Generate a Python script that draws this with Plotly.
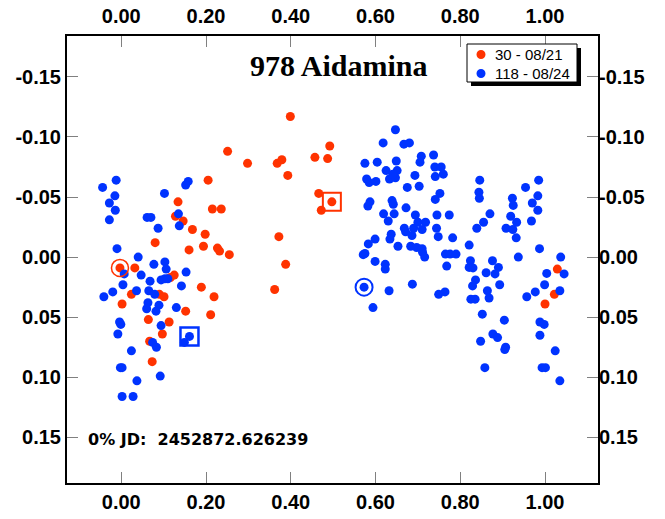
import plotly.graph_objects as go

# Session 30 (08/21): rotational phase and reduced magnitude
red_phase = [-0.003, 0.032, 0.024, 0.002, 0.080, 0.090, 0.101, 0.064, 0.067, 0.073,
             0.097, 0.113, 0.116, 0.125, 0.134, 0.128, 0.146, 0.152, 0.160, 0.168,
             0.189, 0.194, 0.198, 0.205, 0.211, 0.215, 0.219, 0.227, 0.232, 0.236,
             0.251, 0.255, 0.298, 0.362, 0.368, 0.372, 0.379, 0.388, 0.393, 0.399,
             0.457, 0.466, 0.472, 0.487, 0.492, 1.000, 1.022, 1.029, 0.497]
red_mag = [0.009, 0.009, 0.031, 0.039, -0.012, 0.031, 0.033, 0.052, 0.070, 0.087,
           0.064, 0.054, 0.017, 0.015, -0.046, -0.034, -0.030, 0.045, -0.006, -0.023,
           0.025, -0.009, -0.019, -0.064, 0.048, -0.040, 0.033, -0.0075, -0.005, -0.040,
           -0.088, -0.002, -0.078, 0.027, -0.078, -0.017, -0.081, 0.006, -0.068, -0.117,
           -0.083, -0.053, -0.039, -0.082, -0.0925, 0.039, 0.031, 0.010, -0.046]

# Session 118 (08/24)
blue_phase = [0.573,
              -0.012, -0.044, -0.015, -0.028, -0.014, -0.028, 0.158, 0.152, 0.102, 0.061,
              0.070, 0.087, 0.135, 0.137, -0.010, 0.040, 0.077, 0.103, 0.106, 0.007,
              0.047, 0.068, 0.094, 0.103, 0.110, 0.153, 0.142, 0.004, -0.020, -0.041,
              0.036, 0.065, 0.079, 0.063, 0.060, 0.089, 0.082, 0.130, 0.094, -0.004,
              -0.001, -0.008, 0.074, 0.083, 0.149, 0.024, -0.002, 0.002, 0.092, 0.037,
              0.002, 0.028,
              0.647, 0.618, 0.667, 0.680, 0.575, 0.604, 0.649, 0.708, 0.705, 0.737,
              0.625, 0.651, 0.633, 0.647, 0.641, 0.579, 0.585, 0.601, 0.693, 0.740,
              0.755, 0.760, 0.741, 0.675, 0.703, 0.752, 0.741, 0.587, 0.582, 0.639,
              0.642, 0.672, 0.619, 0.644, 0.630, 0.694, 0.700, 0.718, 0.690, 0.668,
              0.671, 0.686, 0.710, 0.745, 0.774, 0.744, 0.748, 0.782, 0.637, 0.634,
              0.599, 0.583, 0.575, 0.571, 0.653, 0.683, 0.697, 0.710, 0.711, 0.716,
              0.765, 0.776, 0.790, 0.768, 0.599, 0.623, 0.623, 0.632, 0.687, 0.749,
              0.764, 0.594,
              0.846, 0.985, 0.954, 0.844, 0.845, 0.923, 0.925, 0.970, 0.983, 0.983,
              0.870, 0.855, 0.839, 0.919, 0.908, 0.924, 0.933, 0.932, 0.968, 0.821,
              0.987, 0.937, 1.037, 0.824, 0.821, 0.830, 0.876, 0.890, 0.861, 0.882,
              0.836, 0.829, 0.893, 0.864, 0.868, 0.825, 0.835, 1.004, 1.045, 0.999,
              0.977, 0.957, 1.035, 0.852, 0.904, 0.988, 0.998, 0.988, 0.877, 0.888,
              0.848, 0.907, 0.905, 1.024, 0.858, 0.993, 1.001, 1.035,
              0.161]
blue_mag = [0.025,
            -0.064, -0.058, -0.051, -0.045, -0.039, -0.031, -0.063, -0.060, -0.053, -0.033,
            -0.033, -0.024, -0.036, -0.026, -0.007, 0.000, 0.006, 0.004, 0.010, 0.014,
            0.015, 0.020, 0.019, 0.018, 0.018, 0.0125, 0.024, 0.023, 0.029, 0.033,
            0.028, 0.028, 0.031, 0.038, 0.043, 0.040, 0.045, 0.042, 0.057, 0.054,
            0.056, 0.064, 0.071, 0.075, 0.071, 0.078, 0.092, 0.092, 0.099, 0.103,
            0.116, 0.116,
            -0.106, -0.095, -0.094, -0.095, -0.078, -0.079, -0.080, -0.084, -0.079, -0.085,
            -0.072, -0.072, -0.065, -0.066, -0.069, -0.065, -0.062, -0.063, -0.068, -0.075,
            -0.075, -0.069, -0.067, -0.058, -0.059, -0.053, -0.048, -0.046, -0.0425, -0.047,
            -0.044, -0.041, -0.036, -0.036, -0.030, -0.035, -0.029, -0.029, -0.024, -0.024,
            -0.021, -0.018, -0.023, -0.035, -0.035, -0.024, -0.017, -0.016, -0.019, -0.015,
            -0.015, -0.011, -0.003, -0.002, -0.009, -0.009, -0.008, -0.007, -0.004, 0.000,
            -0.0025, -0.0025, -0.0025, 0.0075, 0.0036, 0.006, 0.010, 0.028, 0.0225, 0.031,
            0.029, 0.042,
            -0.064, -0.064, -0.058, -0.054, -0.049, -0.049, -0.043, -0.045, -0.051, -0.039,
            -0.036, -0.029, -0.024, -0.034, -0.024, -0.023, -0.029, -0.016, -0.030, -0.010,
            -0.007, 0.000, 0.000, 0.003, 0.0086, 0.009, 0.003, 0.0086, 0.013, 0.014,
            0.019, 0.024, 0.023, 0.028, 0.034, 0.035, 0.035, 0.0136, 0.014, 0.023,
            0.029, 0.033, 0.028, 0.0475, 0.0525, 0.054, 0.056, 0.065, 0.064, 0.067,
            0.070, 0.075, 0.077, 0.078, 0.092, 0.092, 0.092, 0.103,
            0.066]

session_names = ["30 - 08/21", "118 - 08/24"]
session_colors = ["#ff3300", "#0033ff"]

x_ticks = [0.0, 0.2, 0.4, 0.6, 0.8, 1.0]
x_ticktext = ["0.00", "0.20", "0.40", "0.60", "0.80", "1.00"]
y_ticks = [-0.15, -0.10, -0.05, 0.0, 0.05, 0.10, 0.15]
y_ticktext = ["-0.15", "-0.10", "-0.05", "0.00", "0.05", "0.10", "0.15"]

title_text = "978 Aidamina"
epoch_text = "0% JD:  2452872.626239"

x_range = [-0.128, 1.125]
y_range = [0.188, -0.184]

W, H = 665, 519
M_L, M_R, M_T, M_B = 67, 67, 36, 36
PW, PH = W - M_L - M_R, H - M_T - M_B


def px_x(px):
    """Pixel column -> paper x."""
    return (px - M_L) / PW


def px_y(py):
    """Pixel row -> paper y."""
    return (H - M_B - py) / PH


fig = go.Figure()

sessions = [(red_phase, red_mag), (blue_phase, blue_mag)]
for (ph, mg), name, color in zip(sessions, session_names, session_colors):
    fig.add_trace(go.Scatter(
        x=ph, y=mg, mode="markers", name=name, showlegend=False,
        marker=dict(color=color, size=9, line=dict(width=0)),
    ))

# Open symbols: a ring around the first point of each session, a square around the last
marks = [(session_colors[0], red_phase[0], red_mag[0], "circle-open", 17, 1.5),
         (session_colors[1], blue_phase[0], blue_mag[0], "circle-open", 17, 2),
         (session_colors[0], red_phase[-1], red_mag[-1], "square-open", 18, 2),
         (session_colors[1], blue_phase[-1], blue_mag[-1], "square-open", 18, 2.5)]
for color, mx, my, sym, size, lw in marks:
    fig.add_trace(go.Scatter(
        x=[mx], y=[my], mode="markers", showlegend=False, hoverinfo="skip",
        marker=dict(symbol=sym, size=size, color=color, line=dict(color=color, width=lw)),
    ))

# Companion axes carrying the top and right tick labels
fig.add_trace(go.Scatter(x=[None], y=[None], xaxis="x2", yaxis="y2", showlegend=False))

tick_font = dict(family="Liberation Sans, Arial", size=20, color="black", weight="bold")
common = dict(showgrid=False, zeroline=False, automargin=False, tickfont=tick_font)

fig.update_layout(
    width=W, height=H,
    margin=dict(l=M_L, r=M_R, t=M_T, b=M_B, autoexpand=False),
    paper_bgcolor="white", plot_bgcolor="white",
    showlegend=False,
    xaxis=dict(range=x_range, tickvals=x_ticks, ticktext=x_ticktext,
               ticks="inside", ticklen=11, tickwidth=1, tickcolor="#808080",
               showline=True, linecolor="black", linewidth=2, mirror="ticks", **common),
    xaxis2=dict(range=x_range, tickvals=x_ticks, ticktext=x_ticktext,
                overlaying="x", side="top", ticks="", showline=False,
                ticklabelstandoff=8, **common),
    yaxis=dict(range=y_range, tickvals=y_ticks, ticktext=y_ticktext,
               ticks="inside", ticklen=11, tickwidth=1, tickcolor="#808080",
               showline=True, linecolor="black", linewidth=2, mirror="ticks", **common),
    yaxis2=dict(range=y_range, tickvals=y_ticks, ticktext=y_ticktext,
                overlaying="y", side="right", ticks="", showline=False, **common),
)

# Legend box with drop shadow
box_l, box_t, box_r, box_b = 467, 44, 577, 82
shadow = 4
fig.add_shape(type="rect", xref="paper", yref="paper",
              x0=px_x(box_l + shadow), x1=px_x(box_r + shadow),
              y0=px_y(box_b + shadow), y1=px_y(box_t + shadow),
              fillcolor="black", line=dict(width=0), layer="above")
fig.add_shape(type="rect", xref="paper", yref="paper",
              x0=px_x(box_l), x1=px_x(box_r), y0=px_y(box_b), y1=px_y(box_t),
              fillcolor="white", line=dict(color="black", width=1), layer="above")
row_y = [54.5, 73.5]
for name, color, ry in zip(session_names, session_colors, row_y):
    fig.add_shape(type="circle", xref="paper", yref="paper",
                  xsizemode="pixel", ysizemode="pixel",
                  xanchor=px_x(481), yanchor=px_y(ry),
                  x0=-4.5, x1=4.5, y0=-4.5, y1=4.5,
                  fillcolor=color, line=dict(width=0), layer="above")
    fig.add_annotation(text=name, xref="paper", yref="paper",
                       x=px_x(493), y=px_y(ry), xanchor="left", yanchor="middle",
                       showarrow=False,
                       font=dict(family="Liberation Sans, Arial", size=15, color="black"))

fig.add_annotation(text=title_text, xref="paper", yref="paper",
                   x=px_x(339), y=px_y(65), xanchor="center", yanchor="middle",
                   showarrow=False,
                   font=dict(family="Liberation Serif, Times New Roman", size=30,
                             color="black", weight="bold"))
fig.add_annotation(text=epoch_text, xref="paper", yref="paper",
                   x=px_x(86), y=px_y(439), xanchor="left", yanchor="middle",
                   showarrow=False,
                   font=dict(family="DejaVu Sans", size=16, color="black", weight="bold"))

fig.write_html("out.html")
